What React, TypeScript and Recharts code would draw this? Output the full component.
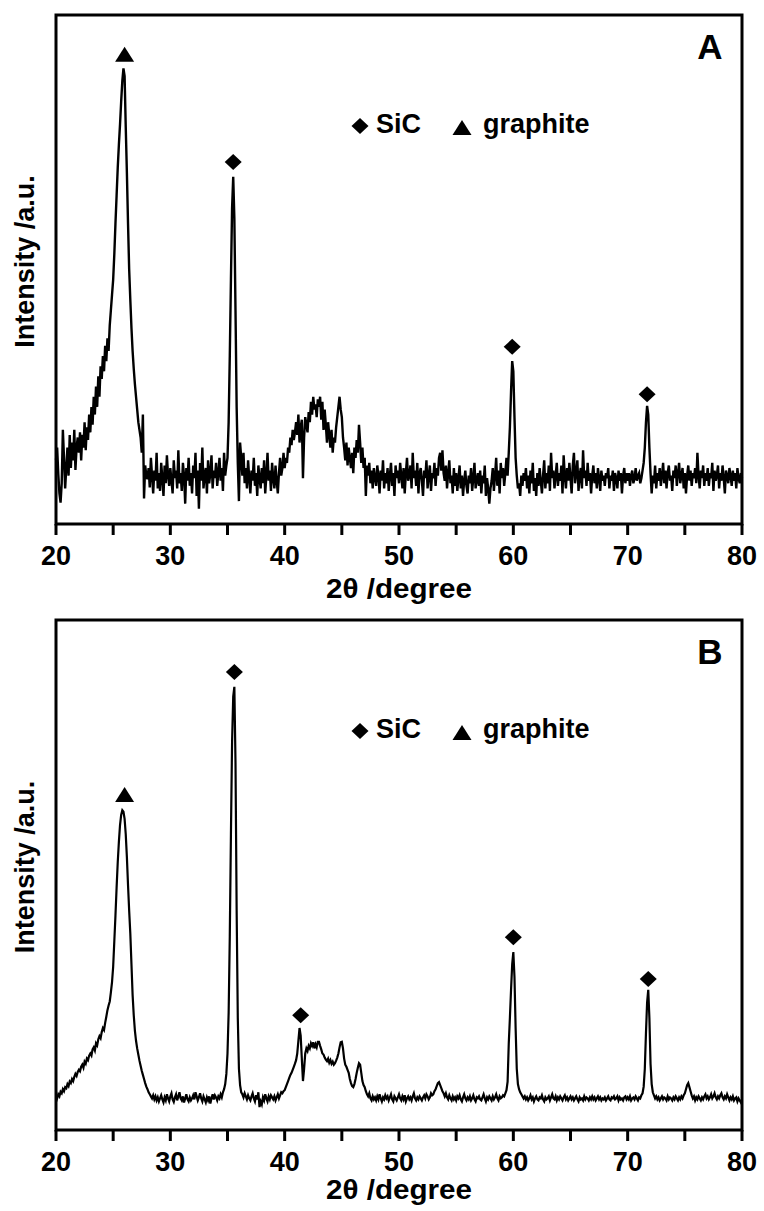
import { ComposedChart, Line, Scatter, XAxis, YAxis, ReferenceArea } from "recharts";

const FONT = '"Liberation Sans", Arial, Helvetica, sans-serif';

// scan grid: 20° .. 80°, 0.1° step
const SCAN_START = 20;
const SCAN_STEP = 0.1;
const xTicks = [20, 25, 30, 35, 40, 45, 50, 55, 60, 65, 70, 75, 80];

// sample A (noisy), one row per degree
const intensityA = [
  126, 150, 98, 60, 42, 80, 185, 130, 70, 110, // 20
  150, 95, 175, 110, 160, 125, 185, 106, 150, 170, // 21
  140, 180, 125, 175, 150, 200, 145, 190, 165, 215, // 22
  180, 230, 195, 250, 215, 270, 230, 290, 250, 310, // 23
  285, 330, 300, 350, 320, 365, 340, 390, 420, 450, // 24
  480, 530, 590, 645, 700, 745, 785, 830, 870, 895, // 25
  880, 780, 690, 590, 500, 440, 385, 340, 305, 275, // 26
  250, 225, 200, 185, 170, 140, 215, 50, 115, 95, // 27
  88, 110, 72, 130, 95, 60, 105, 85, 140, 70, // 28
  100, 65, 120, 90, 55, 115, 80, 135, 95, 75, // 29
  110, 85, 60, 125, 90, 105, 70, 145, 80, 100, // 30
  65, 120, 95, 40, 110, 85, 130, 75, 100, 60, // 31
  115, 90, 140, 55, 105, 30, 120, 85, 150, 70, // 32
  95, 110, 60, 125, 80, 100, 135, 70, 105, 90, // 33
  120, 75, 100, 130, 85, 110, 65, 140, 95, 115, // 34
  130, 200, 330, 480, 620, 682, 600, 420, 230, 120, // 35
  45, 160, 130, 95, 140, 80, 110, 70, 125, 90, // 36
  60, 105, 85, 130, 75, 100, 55, 115, 90, 70, // 37
  110, 80, 125, 60, 95, 140, 85, 105, 65, 120, // 38
  90, 70, 115, 85, 60, 100, 130, 95, 110, 140, // 39
  110, 130, 120, 150, 140, 170, 155, 185, 165, 180, // 40
  200, 175, 215, 160, 190, 205, 90, 170, 210, 195, // 41
  180, 220, 200, 240, 215, 250, 225, 235, 210, 245, // 42
  230, 250, 205, 240, 185, 225, 195, 160, 200, 175, // 43
  150, 185, 140, 170, 160, 190, 210, 230, 250, 225, // 44
  210, 170, 150, 125, 160, 115, 150, 130, 110, 140, // 45
  100, 150, 130, 165, 140, 195, 160, 120, 150, 110, // 46
  130, 55, 115, 95, 120, 80, 105, 70, 110, 90, // 47
  75, 115, 95, 60, 105, 85, 125, 70, 100, 80, // 48
  110, 65, 95, 120, 75, 100, 55, 115, 90, 105, // 49
  80, 120, 95, 70, 110, 60, 100, 130, 85, 95, // 50
  115, 70, 140, 90, 105, 75, 120, 60, 100, 110, // 51
  85, 55, 105, 90, 125, 70, 95, 115, 65, 100, // 52
  90, 120, 75, 110, 95, 130, 140, 105, 145, 100, // 53
  85, 115, 70, 100, 125, 80, 95, 60, 110, 75, // 54
  100, 65, 90, 115, 70, 95, 55, 85, 105, 75, // 55
  60, 95, 80, 110, 65, 90, 120, 70, 85, 100, // 56
  75, 105, 60, 95, 80, 115, 55, 90, 70, 40, // 57
  70, 85, 110, 65, 95, 130, 75, 105, 60, 120, // 58
  90, 110, 75, 100, 130, 95, 140, 190, 260, 320, // 59
  300, 210, 130, 95, 70, 80, 55, 95, 75, 100, // 60
  85, 110, 70, 95, 60, 105, 80, 120, 65, 90, // 61
  55, 100, 75, 110, 85, 60, 95, 125, 70, 100, // 62
  80, 115, 65, 140, 90, 105, 70, 95, 120, 75, // 63
  100, 85, 115, 60, 135, 95, 70, 110, 85, 120, // 64
  90, 60, 115, 140, 80, 100, 125, 65, 95, 110, // 65
  70, 145, 90, 105, 75, 120, 85, 100, 60, 95, // 66
  115, 80, 100, 70, 110, 90, 65, 105, 85, 95, // 67
  75, 100, 90, 110, 70, 95, 85, 105, 65, 100, // 68
  90, 70, 105, 85, 100, 60, 95, 110, 80, 100, // 69
  85, 100, 75, 95, 105, 80, 90, 110, 85, 95, // 70
  100, 80, 90, 105, 120, 150, 200, 232, 215, 150, // 71
  100, 60, 95, 80, 115, 70, 100, 85, 110, 75, // 72
  95, 120, 80, 105, 70, 100, 115, 85, 95, 65, // 73
  105, 90, 115, 75, 100, 120, 80, 95, 110, 70, // 74
  100, 60, 95, 115, 85, 105, 75, 100, 90, 110, // 75
  80, 140, 95, 70, 105, 90, 115, 75, 100, 85, // 76
  110, 75, 100, 90, 120, 65, 105, 85, 95, 115, // 77
  70, 100, 85, 115, 90, 60, 105, 95, 80, 110, // 78
  95, 75, 105, 85, 100, 70, 110, 90, 80, 100, // 79
  90, // 80
];

// sample B (smoother)
const intensityB = [
  55, 62, 70, 66, 75, 72, 80, 76, 84, 82, // 20
  90, 86, 95, 92, 100, 96, 104, 110, 106, 114, // 21
  118, 115, 124, 128, 122, 134, 130, 140, 137, 146, // 22
  150, 146, 158, 162, 156, 170, 166, 178, 184, 180, // 23
  192, 200, 196, 210, 222, 235, 244, 252, 270, 290, // 24
  320, 370, 420, 475, 525, 565, 598, 618, 627, 624, // 25
  610, 580, 535, 480, 430, 385, 325, 265, 225, 195, // 26
  175, 160, 148, 136, 126, 116, 108, 100, 92, 85, // 27
  80, 74, 70, 66, 62, 68, 60, 66, 58, 64, // 28
  56, 62, 68, 60, 54, 64, 58, 70, 62, 56, // 29
  66, 72, 60, 55, 64, 70, 58, 66, 74, 62, // 30
  58, 66, 54, 62, 70, 60, 56, 64, 58, 62, // 31
  68, 60, 74, 66, 58, 64, 72, 62, 56, 66, // 32
  60, 54, 64, 58, 66, 52, 62, 70, 60, 68, // 33
  64, 58, 66, 62, 70, 64, 74, 80, 90, 110, // 34
  150, 230, 380, 580, 760, 850, 869, 720, 430, 220, // 35
  120, 88, 74, 70, 64, 72, 66, 60, 68, 62, // 36
  58, 66, 72, 62, 56, 68, 60, 74, 45, 56, // 37
  50, 64, 58, 70, 62, 56, 66, 60, 68, 64, // 38
  60, 66, 58, 64, 70, 62, 68, 74, 72, 76, // 39
  78, 84, 90, 96, 102, 108, 112, 118, 124, 130, // 40
  137, 150, 175, 200, 185, 140, 96, 120, 150, 160, // 41
  155, 165, 160, 170, 165, 172, 160, 168, 162, 173, // 42
  173, 165, 158, 150, 148, 142, 138, 135, 140, 132, // 43
  137, 130, 134, 128, 131, 136, 142, 150, 162, 172, // 44
  173, 160, 140, 128, 124, 118, 112, 100, 92, 86, // 45
  84, 90, 100, 112, 122, 131, 128, 112, 96, 88, // 46
  84, 76, 70, 66, 72, 62, 58, 66, 60, 64, // 47
  58, 66, 60, 70, 62, 56, 64, 60, 68, 62, // 48
  66, 58, 64, 70, 60, 56, 66, 62, 58, 64, // 49
  70, 62, 58, 66, 60, 68, 56, 62, 66, 60, // 50
  64, 58, 66, 72, 62, 58, 64, 60, 66, 62, // 51
  58, 64, 68, 62, 70, 66, 60, 64, 72, 68, // 52
  70, 76, 80, 86, 92, 94, 88, 82, 76, 72, // 53
  66, 72, 64, 60, 68, 62, 58, 66, 60, 64, // 54
  58, 66, 62, 68, 60, 56, 64, 70, 62, 58, // 55
  64, 60, 66, 58, 62, 68, 60, 56, 64, 62, // 56
  66, 60, 58, 64, 70, 62, 56, 64, 60, 66, // 57
  62, 58, 66, 60, 64, 70, 62, 58, 66, 62, // 58
  64, 68, 66, 72, 78, 95, 170, 220, 275, 325, // 59
  349, 300, 200, 120, 90, 80, 74, 70, 66, 62, // 60
  66, 60, 64, 58, 62, 68, 60, 64, 56, 62, // 61
  66, 60, 58, 64, 62, 68, 60, 56, 64, 60, // 62
  62, 66, 58, 64, 70, 62, 60, 66, 58, 64, // 63
  60, 66, 62, 58, 64, 68, 60, 64, 58, 62, // 64
  66, 60, 64, 58, 62, 66, 60, 56, 64, 60, // 65
  62, 58, 66, 60, 64, 62, 58, 64, 60, 66, // 66
  60, 64, 58, 62, 66, 60, 64, 58, 62, 60, // 67
  64, 58, 62, 66, 60, 58, 64, 62, 66, 60, // 68
  62, 66, 58, 64, 60, 62, 58, 64, 66, 60, // 69
  64, 60, 66, 58, 62, 64, 60, 66, 62, 58, // 70
  64, 62, 68, 72, 85, 120, 190, 250, 275, 220, // 71
  130, 90, 74, 68, 62, 66, 60, 64, 58, 62, // 72
  66, 60, 64, 62, 58, 66, 60, 64, 62, 58, // 73
  64, 60, 66, 62, 58, 64, 60, 66, 62, 68, // 74
  72, 80, 88, 92, 84, 76, 68, 62, 66, 58, // 75
  64, 60, 66, 62, 58, 64, 60, 66, 70, 62, // 76
  66, 60, 64, 70, 62, 66, 72, 64, 60, 66, // 77
  62, 68, 72, 64, 60, 66, 62, 70, 64, 58, // 78
  64, 60, 66, 58, 62, 64, 56, 62, 58, 54, // 79
  60, // 80
];

// peak markers (position, marker height)
const graphitePosA = [26.0];
const graphiteMarkA = [922];
const sicPosA = [35.5, 59.9, 71.7];
const sicMarkA = [711, 348, 255];

const graphitePosB = [26.0];
const graphiteMarkB = [657];
const sicPosB = [35.6, 41.4, 60.0, 71.8];
const sicMarkB = [898, 225, 378, 296];

const TICK_LEN = 11;

const toSeries = (values: number[]) =>
  values.map((v, i) => ({ x: Math.round((SCAN_START + i * SCAN_STEP) * 10) / 10, y: v }));

const toMarks = (pos: number[], h: number[]) => pos.map((x, i) => ({ x, y: h[i] }));

const Diamond = (props: any) => {
  const { cx, cy } = props;
  return (
    <polygon
      points={`${cx},${cy - 8} ${cx + 8.5},${cy} ${cx},${cy + 8} ${cx - 8.5},${cy}`}
      fill="#000"
    />
  );
};

const Triangle = (props: any) => {
  const { cx, cy } = props;
  return <polygon points={`${cx},${cy - 8} ${cx + 9.5},${cy + 7} ${cx - 9.5},${cy + 7}`} fill="#000" />;
};

// tick lines come from the axis; labels only every 10°
const AxisTick = (props: any) => {
  const { x, y, payload } = props;
  if (payload.value % 10 !== 0) return <g />;
  return (
    <text
      x={x}
      y={y + 30}
      textAnchor="middle"
      fontFamily={FONT}
      fontWeight="bold"
      fontSize={27}
      fill="#000"
    >
      {payload.value}
    </text>
  );
};

function XrdPanel({
  values,
  graphite,
  sic,
  letter,
  height,
  titleOffset,
  lineWidth,
}: {
  values: number[];
  graphite: { x: number; y: number }[];
  sic: { x: number; y: number }[];
  letter: string;
  height: number;
  titleOffset: number;
  lineWidth: number;
}) {
  const data = toSeries(values);
  const top = 15;
  return (
    <div style={{ position: "relative", width: 764, height }}>
      <ComposedChart width={764} height={height} data={data} margin={{ top, right: 22, bottom: 0, left: 0 }}>
        <XAxis
          dataKey="x"
          type="number"
          domain={[20, 80]}
          ticks={xTicks}
          interval={0}
          height={81}
          tickSize={TICK_LEN}
          tickMargin={0}
          tickLine={{ stroke: "#000", strokeWidth: 3 }}
          tick={<AxisTick />}
          axisLine={false}
          label={(p: any) => {
            const vb = p.viewBox;
            return (
              <text
                x={vb.x + vb.width / 2}
                y={vb.y + titleOffset}
                textAnchor="middle"
                fontFamily={FONT}
                fontWeight="bold"
                fontSize={27}
                textLength={146}
                lengthAdjust="spacingAndGlyphs"
                fill="#000"
              >
                2θ /degree
              </text>
            );
          }}
        />
        <YAxis
          type="number"
          domain={[0, 1000]}
          width={56}
          tick={false}
          tickLine={false}
          axisLine={false}
          label={(p: any) => {
            const vb = p.viewBox;
            const cx = vb.x + 34;
            const cy = vb.y + vb.height / 2 - 8;
            return (
              <text
                x={cx}
                y={cy}
                transform={`rotate(-90 ${cx} ${cy})`}
                textAnchor="middle"
                fontFamily={FONT}
                fontWeight="bold"
                fontSize={27}
                fill="#000"
              >
                Intensity /a.u.
              </text>
            );
          }}
        />
        <Line
          type="linear"
          dataKey="y"
          stroke="#000"
          strokeWidth={lineWidth}
          dot={false}
          isAnimationActive={false}
        />
        <Scatter data={graphite} dataKey="y" shape={<Triangle />} isAnimationActive={false} />
        <Scatter data={sic} dataKey="y" shape={<Diamond />} isAnimationActive={false} />
        <ReferenceArea
          x1={20}
          x2={80}
          y1={0}
          y2={1000}
          fill="none"
          fillOpacity={0}
          stroke="#000"
          strokeWidth={3}
          ifOverflow="visible"
        />
      </ComposedChart>
      <svg
        width={764}
        height={200}
        style={{ position: "absolute", left: 0, top: 0, pointerEvents: "none" }}
      >
        <Diamond cx={360} cy={top + 111} />
        <text x={376} y={top + 118} fontFamily={FONT} fontWeight="bold" fontSize={27} fill="#000">
          SiC
        </text>
        <Triangle cx={462} cy={top + 113} />
        <text x={483} y={top + 118} fontFamily={FONT} fontWeight="bold" fontSize={27} fill="#000">
          graphite
        </text>
        <text
          x={710}
          y={top + 44}
          textAnchor="middle"
          fontFamily={FONT}
          fontWeight="bold"
          fontSize={35}
          fill="#000"
        >
          {letter}
        </text>
      </svg>
    </div>
  );
}

export default function App() {
  return (
    <div
      style={{
        position: "absolute",
        left: 0,
        top: 0,
        width: 764,
        height: 1211,
        background: "#fff",
        overflow: "hidden",
      }}
    >
      <XrdPanel
        values={intensityA}
        graphite={toMarks(graphitePosA, graphiteMarkA)}
        sic={toMarks(sicPosA, sicMarkA)}
        letter="A"
        height={605}
        titleOffset={74}
        lineWidth={2.4}
      />
      <XrdPanel
        values={intensityB}
        graphite={toMarks(graphitePosB, graphiteMarkB)}
        sic={toMarks(sicPosB, sicMarkB)}
        letter="B"
        height={606}
        titleOffset={69}
        lineWidth={2.2}
      />
    </div>
  );
}
